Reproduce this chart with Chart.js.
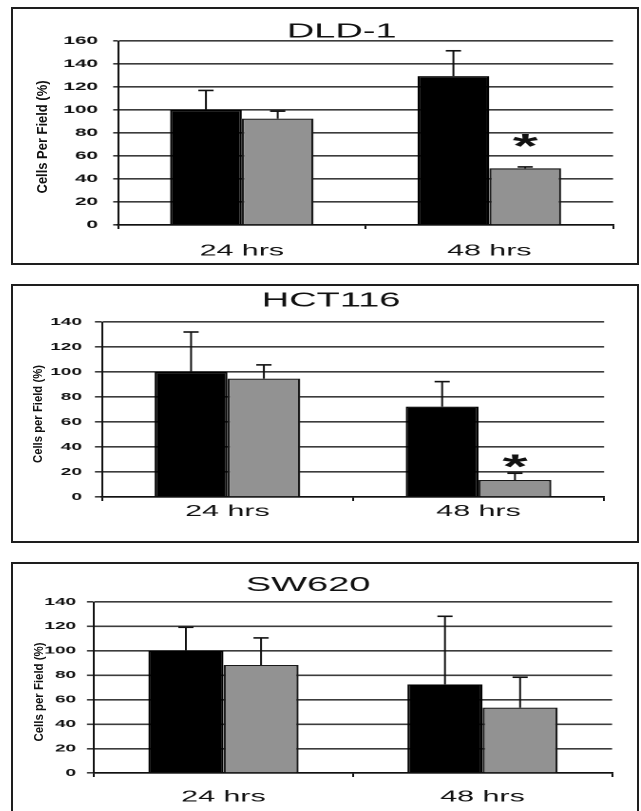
<!DOCTYPE html>
<html><head><meta charset="utf-8">
<script src="https://cdn.jsdelivr.net/npm/chart.js@4.4.1/dist/chart.umd.min.js"></script>
<style>
html,body{margin:0;padding:0;background:#fff;width:641px;height:811px;overflow:hidden;position:relative;}
.panel{position:absolute;box-sizing:border-box;border:2px solid #1e1e1e;background:#fff;overflow:hidden}
.stretch{position:absolute;left:0;top:0;transform-origin:0 0;transform:scaleX(1.9)}
.ytitle{position:absolute;font-family:"Liberation Sans",Arial,sans-serif;font-weight:bold;white-space:nowrap;color:#111;line-height:1}
</style></head><body>
<div class="panel" style="left:11px;top:7px;width:628px;height:258px"><div class="stretch"><canvas id="c1" width="328" height="254"></canvas></div></div>
<div class="panel" style="left:11px;top:284px;width:628px;height:259px"><div class="stretch"><canvas id="c2" width="328" height="255"></canvas></div></div>
<div class="panel" style="left:11px;top:562px;width:628px;height:290px"><div class="stretch"><canvas id="c3" width="328" height="250"></canvas></div></div>
<div class="ytitle" style="left:41.5px;top:137px;font-size:15.5px;transform:translate(-50%,-50%) rotate(-90deg) scaleX(0.835)">Cells Per Field (%)</div>
<div class="ytitle" style="left:37px;top:414px;font-size:13px;transform:translate(-50%,-50%) rotate(-90deg) scaleX(0.87)">Cells per Field (%)</div>
<div class="ytitle" style="left:38px;top:692px;font-size:13px;transform:translate(-50%,-50%) rotate(-90deg) scaleX(0.88)">Cells per Field (%)</div>
<script>
// ---- data ----
const categories = ['24 hrs', '48 hrs'];

const dld1Control = [100, 129.5];
const dld1ControlErr = [17, 22];
const dld1Treated = [92.5, 49.3];
const dld1TreatedErr = [6.5, 1.2];
const dld1Sig = [null, 76];

const hct116Control = [100, 72.3];
const hct116ControlErr = [32, 20];
const hct116Treated = [94.7, 13.6];
const hct116TreatedErr = [11, 5.4];
const hct116Sig = [null, 31];

const sw620Control = [100, 72.6];
const sw620ControlErr = [19.3, 55.7];
const sw620Treated = [88.4, 53.5];
const sw620TreatedErr = [22.2, 24.9];
const sw620Sig = [null, null];

const dld1YMax = 160, hct116YMax = 140, sw620YMax = 140;
const yStep = 20;

// ---- drawing ----
const FONT = '"Liberation Sans", Arial, sans-serif';

const errorBarPlugin = {
  id: 'errorBars',
  afterDatasetsDraw(chart) {
    const ctx = chart.ctx, y = chart.scales.y;
    chart.data.datasets.forEach((ds, i) => {
      const meta = chart.getDatasetMeta(i);
      meta.data.forEach((bar, j) => {
        const e = ds.errors ? ds.errors[j] : null;
        if (e == null) return;
        const top = y.getPixelForValue(ds.data[j] + e);
        ctx.save();
        ctx.strokeStyle = '#111';
        ctx.lineWidth = 1;
        ctx.beginPath(); ctx.moveTo(bar.x, bar.y); ctx.lineTo(bar.x, top); ctx.stroke();
        ctx.lineWidth = 1.6;
        ctx.beginPath(); ctx.moveTo(bar.x - 4, top); ctx.lineTo(bar.x + 4, top); ctx.stroke();
        ctx.restore();
      });
    });
  }
};

const sigPlugin = {
  id: 'sigMarks',
  afterDatasetsDraw(chart, args, opts) {
    if (!opts || !opts.values) return;
    const ctx = chart.ctx, y = chart.scales.y;
    const meta = chart.getDatasetMeta(opts.datasetIndex);
    opts.values.forEach((v, j) => {
      if (v == null) return;
      const fs = 34;
      ctx.save();
      ctx.fillStyle = '#111';
      ctx.font = 'bold ' + fs + 'px ' + FONT;
      ctx.textAlign = 'center';
      ctx.textBaseline = 'alphabetic';
      ctx.fillText('*', meta.data[j].x, y.getPixelForValue(v) + 0.58 * fs);
      ctx.restore();
    });
  }
};

const panelTitlePlugin = {
  id: 'panelTitle',
  afterDraw(chart, args, opts) {
    if (!opts || !opts.text) return;
    const ctx = chart.ctx;
    ctx.save();
    ctx.fillStyle = '#111';
    ctx.font = opts.size + 'px ' + FONT;
    ctx.textAlign = 'center';
    ctx.textBaseline = 'middle';
    ctx.fillText(opts.text, opts.x, opts.y);
    ctx.restore();
  }
};

function makeChart(id, c) {
  return new Chart(document.getElementById(id), {
    type: 'bar',
    data: {
      labels: categories,
      datasets: [
        { label: 'Control', data: c.a, errors: c.aErr, backgroundColor: '#000', borderColor: '#000', borderWidth: 1.2,
          categoryPercentage: 0.58, barPercentage: 1.0 },
        { label: 'Treated', data: c.b, errors: c.bErr, backgroundColor: '#929292', borderColor: '#1a1a1a', borderWidth: 1.2,
          categoryPercentage: 0.58, barPercentage: 1.0 }
      ]
    },
    options: {
      responsive: false, animation: false, devicePixelRatio: 2, events: [],
      layout: { padding: { left: 0, right: c.padR, top: c.padTop, bottom: 0 } },
      plugins: {
        legend: { display: false }, tooltip: { enabled: false }, title: { display: false },
        panelTitle: { text: c.title, x: c.titleX, y: c.titleY, size: 20 },
        sigMarks: { values: c.sig, datasetIndex: 1 }
      },
      scales: {
        x: {
          afterFit(s) { s.height = c.xHeight; },
          grid: { display: true, drawOnChartArea: false, drawTicks: true, tickLength: 4, color: '#111', lineWidth: 1 },
          border: { display: true, color: '#111', width: 1.6 },
          ticks: { color: '#111', padding: c.xPad, font: { family: FONT, size: 16 } }
        },
        y: {
          min: 0, max: c.yMax,
          afterFit(s) { s.width = c.yWidth; },
          grid: { color: '#3c3c3c', lineWidth: 1.6, tickLength: c.tickLen, drawTicks: true },
          border: { display: true, color: '#111', width: 1 },
          ticks: { stepSize: yStep, color: '#111', padding: c.tickPad, font: { family: FONT, size: c.tickFont, weight: 'bold' } }
        }
      }
    },
    plugins: [errorBarPlugin, sigPlugin, panelTitlePlugin]
  });
}

makeChart('c1', { a: dld1Control, aErr: dld1ControlErr, b: dld1Treated, bErr: dld1TreatedErr, sig: dld1Sig,
  yMax: dld1YMax, title: 'DLD-1', titleX: 173, titleY: 23, padTop: 32, yWidth: 55.3, padR: 12.2,
  xHeight: 38, tickFont: 11, tickLen: 2.6, tickPad: 7.9, xPad: 12.4 });
makeChart('c2', { a: hct116Control, aErr: hct116ControlErr, b: hct116Treated, bErr: hct116TreatedErr, sig: hct116Sig,
  yMax: hct116YMax, title: 'HCT116', titleX: 167.4, titleY: 15, padTop: 36, yWidth: 46.8, padR: 16.9,
  xHeight: 44, tickFont: 10, tickLen: 3.7, tickPad: 6.8, xPad: 0.9 });
makeChart('c3', { a: sw620Control, aErr: sw620ControlErr, b: sw620Treated, bErr: sw620TreatedErr, sig: sw620Sig,
  yMax: sw620YMax, title: 'SW620', titleX: 155.3, titleY: 21.5, padTop: 38, yWidth: 42.6, padR: 12.7,
  xHeight: 41, tickFont: 10, tickLen: 3.7, tickPad: 5.7, xPad: 10.4 });
</script>
</body></html>
